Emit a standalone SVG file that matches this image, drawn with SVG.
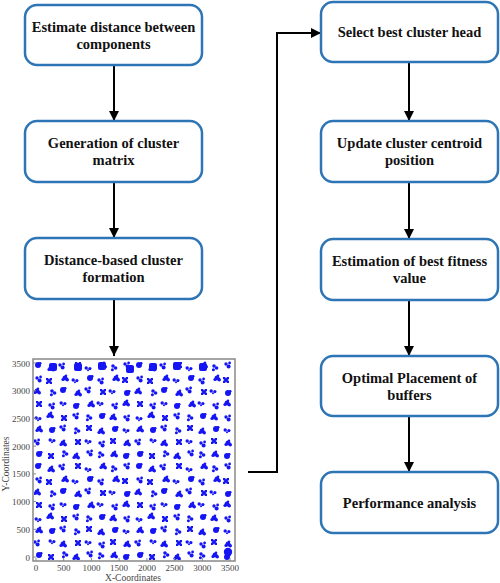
<svg xmlns="http://www.w3.org/2000/svg" xmlns:xlink="http://www.w3.org/1999/xlink" width="500" height="583" viewBox="0 0 500 583">
<style>
.box{fill:#fff;stroke:#2E75B6;stroke-width:2.5}
.lbl{font-family:"Liberation Serif","Times New Roman",serif;font-weight:bold;font-size:14.5px;fill:#111;text-anchor:middle}
.conn{fill:none;stroke:#000;stroke-width:2}
.tick{font-family:"Liberation Serif","Times New Roman",serif;font-size:9px;fill:#444}
.ax{font-family:"Liberation Serif","Times New Roman",serif;font-size:9.5px;fill:#444;text-anchor:middle}
</style>
<defs>
<marker id="ah" markerUnits="userSpaceOnUse" markerWidth="10" markerHeight="10" refX="10" refY="5" orient="auto">
<path d="M0,0L10,5L0,10z" fill="#000"/>
</marker>
<g id="b1"><circle r="2.5"/><circle cx="2.3" cy="1.7" r="1.7"/><circle cx="-2.1" cy="1.5" r="1.5"/><circle cx="1" cy="-2.4" r="1.2"/></g>
<path id="b2" d="M-3,-3h2l1,1.5l1,-1.5h2v2l-1.5,1l1.5,1v2h-2l-1,-1.5l-1,1.5h-2v-2l1.5,-1l-1.5,-1z"/>
<g id="b3"><circle r="3"/><circle cx="2.2" cy="-1.8" r="1.3"/></g>
<g id="b4"><circle cx="-2" cy="-1" r="1.7"/><circle cx="1.6" cy="-2" r="1.4"/><circle cx="0.6" cy="1.6" r="2"/></g>
<g id="b5"><circle cx="-1" cy="-2" r="1.8"/><circle cx="1.6" cy="0" r="1.8"/><circle cx="-1.6" cy="1.8" r="1.5"/></g>
<g id="b6"><circle cx="-1.8" r="1.7"/><circle cx="1.9" cy="0.6" r="1.6"/><circle cx="0" cy="2.2" r="1"/></g>
<pattern id="dots" patternUnits="userSpaceOnUse" x="32" y="360" width="101" height="101">
<g fill="#1414F5">
<use xlink:href="#b3" x="6" y="5"/><use xlink:href="#b1" x="19" y="8"/><use xlink:href="#b4" x="30" y="6"/><use xlink:href="#b2" x="46" y="5"/><use xlink:href="#b6" x="56" y="8"/><use xlink:href="#b1" x="71" y="5"/><use xlink:href="#b5" x="82" y="8"/><use xlink:href="#b4" x="95" y="5"/>
<use xlink:href="#b4" x="7" y="19"/><use xlink:href="#b2" x="17" y="21"/><use xlink:href="#b1" x="33" y="18"/><use xlink:href="#b6" x="43" y="20"/><use xlink:href="#b3" x="58" y="18"/><use xlink:href="#b4" x="69" y="21"/><use xlink:href="#b1" x="84" y="18"/><use xlink:href="#b2" x="93" y="20"/>
<use xlink:href="#b1" x="5" y="31"/><use xlink:href="#b5" x="21" y="33"/><use xlink:href="#b3" x="31" y="30"/><use xlink:href="#b1" x="46" y="33"/><use xlink:href="#b4" x="56" y="30"/><use xlink:href="#b2" x="71" y="32"/><use xlink:href="#b6" x="80" y="31"/><use xlink:href="#b3" x="95" y="33"/>
<use xlink:href="#b2" x="7" y="44"/><use xlink:href="#b4" x="20" y="46"/><use xlink:href="#b6" x="31" y="43"/><use xlink:href="#b3" x="44" y="46"/><use xlink:href="#b1" x="59" y="44"/><use xlink:href="#b6" x="68" y="43"/><use xlink:href="#b4" x="83" y="46"/><use xlink:href="#b1" x="94" y="43"/>
<use xlink:href="#b6" x="6" y="58"/><use xlink:href="#b1" x="18" y="55"/><use xlink:href="#b2" x="32" y="58"/><use xlink:href="#b4" x="44" y="56"/><use xlink:href="#b5" x="57" y="58"/><use xlink:href="#b3" x="70" y="56"/><use xlink:href="#b1" x="81" y="57"/><use xlink:href="#b4" x="95" y="58"/>
<use xlink:href="#b1" x="7" y="69"/><use xlink:href="#b3" x="20" y="70"/><use xlink:href="#b4" x="31" y="68"/><use xlink:href="#b5" x="45" y="71"/><use xlink:href="#b2" x="57" y="68"/><use xlink:href="#b1" x="69" y="71"/><use xlink:href="#b3" x="83" y="69"/><use xlink:href="#b6" x="94" y="70"/>
<use xlink:href="#b4" x="5" y="82"/><use xlink:href="#b6" x="20" y="80"/><use xlink:href="#b1" x="31" y="83"/><use xlink:href="#b2" x="46" y="82"/><use xlink:href="#b6" x="56" y="81"/><use xlink:href="#b4" x="70" y="84"/><use xlink:href="#b2" x="81" y="81"/><use xlink:href="#b1" x="95" y="83"/>
<use xlink:href="#b3" x="7" y="94"/><use xlink:href="#b2" x="19" y="96"/><use xlink:href="#b5" x="33" y="94"/><use xlink:href="#b1" x="44" y="96"/><use xlink:href="#b4" x="58" y="93"/><use xlink:href="#b5" x="69" y="95"/><use xlink:href="#b1" x="82" y="94"/><use xlink:href="#b3" x="94" y="96"/>
</g>
</pattern>
</defs>

<g id="connectors">
<line class="conn" x1="114" y1="65" x2="114" y2="121" marker-end="url(#ah)"/>
<line class="conn" x1="114" y1="182" x2="114" y2="238" marker-end="url(#ah)"/>
<line class="conn" x1="114" y1="299" x2="114" y2="356" marker-end="url(#ah)"/>
<polyline class="conn" points="248,472 277,472 277,33 321,33" marker-end="url(#ah)"/>
<line class="conn" x1="409" y1="62" x2="409" y2="121" marker-end="url(#ah)"/>
<line class="conn" x1="409" y1="182" x2="409" y2="239" marker-end="url(#ah)"/>
<line class="conn" x1="409" y1="300" x2="409" y2="356" marker-end="url(#ah)"/>
<line class="conn" x1="409" y1="416" x2="409" y2="472" marker-end="url(#ah)"/>
</g>

<g id="n1"><rect class="box" x="25" y="5" width="177" height="60" rx="12"/>
<text class="lbl" x="113.5" y="31.5">Estimate distance between</text><text class="lbl" x="113.5" y="48.5">components</text></g>
<g id="n2"><rect class="box" x="25" y="121" width="177" height="61" rx="12"/>
<text class="lbl" x="113.5" y="148">Generation of cluster</text><text class="lbl" x="113.5" y="165">matrix</text></g>
<g id="n3"><rect class="box" x="25" y="238" width="177" height="61" rx="12"/>
<text class="lbl" x="113.5" y="265">Distance-based cluster</text><text class="lbl" x="113.5" y="282">formation</text></g>

<g id="plot">
<rect x="33" y="359" width="202" height="202" fill="#fff" stroke="#888" stroke-width="1.5"/>
<rect x="34" y="360" width="200" height="200" fill="url(#dots)"/>
<g fill="#1414F5">
<rect x="49" y="363" width="8" height="8" rx="2"/><rect x="74" y="363" width="8" height="8" rx="2"/><rect x="98" y="362" width="8" height="8" rx="2"/><rect x="126" y="365" width="8" height="8" rx="2"/><rect x="149" y="363" width="8" height="8" rx="2"/><rect x="173" y="362" width="8" height="8" rx="2"/><rect x="199" y="363" width="8" height="8" rx="2"/>
<circle cx="228" cy="552" r="4.2"/>
</g>
<g stroke="#888" stroke-width="1">
<path d="M33,557h3M33,529.3h3M33,501.6h3M33,473.9h3M33,446.1h3M33,418.4h3M33,390.7h3M33,363h3"/>
<path d="M36,561v-3M63.7,561v-3M91.4,561v-3M119.1,561v-3M146.9,561v-3M174.6,561v-3M202.3,561v-3M230,561v-3"/>
</g>
<g class="tick" text-anchor="end">
<text x="30" y="560.5">0</text><text x="30" y="532.8">500</text><text x="30" y="505.1">1000</text><text x="30" y="477.4">1500</text><text x="30" y="449.6">2000</text><text x="30" y="421.9">2500</text><text x="30" y="394.2">3000</text><text x="30" y="366.5">3500</text>
</g>
<g class="tick" text-anchor="middle">
<text x="36" y="571">0</text><text x="63.7" y="571">500</text><text x="91.4" y="571">1000</text><text x="119.1" y="571">1500</text><text x="146.9" y="571">2000</text><text x="174.6" y="571">2500</text><text x="202.3" y="571">3000</text><text x="230" y="571">3500</text>
</g>
<text class="ax" x="133" y="581">X-Coordinates</text>
<text class="ax" transform="translate(9,464) rotate(-90)">Y-Coordinates</text>
</g>

<g id="r1"><rect class="box" x="321" y="2" width="177" height="60" rx="12"/>
<text class="lbl" x="409.5" y="37">Select best cluster head</text></g>
<g id="r2"><rect class="box" x="321" y="121" width="177" height="61" rx="12"/>
<text class="lbl" x="409.5" y="148">Update cluster centroid</text><text class="lbl" x="409.5" y="165">position</text></g>
<g id="r3"><rect class="box" x="321" y="239" width="177" height="61" rx="12"/>
<text class="lbl" x="409.5" y="266">Estimation of best fitness</text><text class="lbl" x="409.5" y="283">value</text></g>
<g id="r4"><rect class="box" x="321" y="356" width="177" height="60" rx="12"/>
<text class="lbl" x="409.5" y="382.5">Optimal Placement of</text><text class="lbl" x="409.5" y="399.5">buffers</text></g>
<g id="r5"><rect class="box" x="321" y="472" width="177" height="61" rx="12"/>
<text class="lbl" x="409.5" y="507.5">Performance analysis</text></g>
</svg>
